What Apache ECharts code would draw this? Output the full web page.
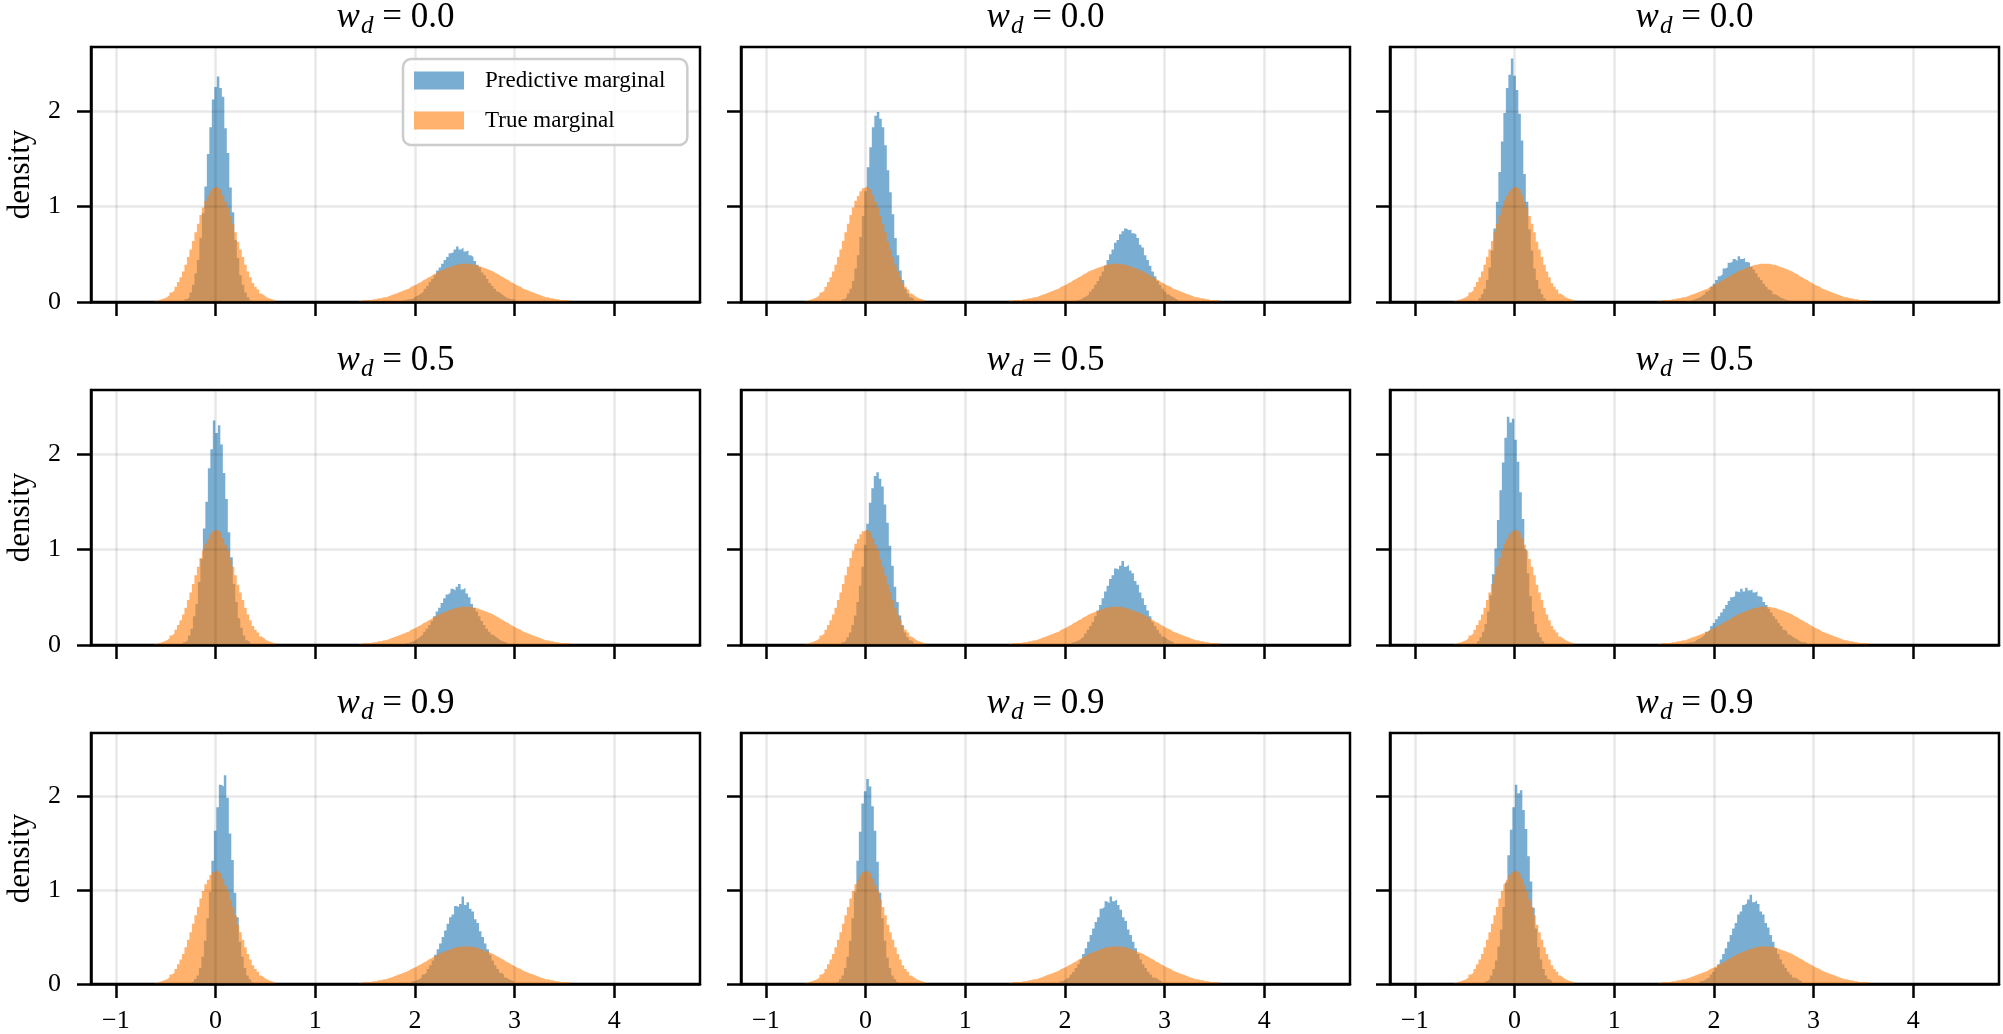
<!DOCTYPE html>
<html>
<head>
<meta charset="utf-8">
<title>Predictive vs true marginal</title>
<script src="https://cdn.jsdelivr.net/npm/echarts@6/dist/echarts.min.js"></script>
<style>
  html, body { margin: 0; padding: 0; background: #fff; }
  #chart { width: 2003px; height: 1034px; }
</style>
</head>
<body>
<div id="chart"></div>
<script>
const binWidth = 0.025
const weightLabels = ['0.0', '0.0', '0.0', '0.5', '0.5', '0.5', '0.9', '0.9', '0.9']
const xTicks = [-1, 0, 1, 2, 3, 4]
const yTicks = [0, 1, 2]

// true marginal, same in every panel (bin centres start at the given value)
const trueLowStart = -0.6
const trueLow = [0.01,0.02,0.03,0.04,0.05,0.07,0.10,0.12,0.16,0.21,0.26,0.32,0.39,0.47,0.55,0.64,0.73,0.82,0.91,0.99,1.06,1.11,1.16,1.19,
  1.21,
  1.19,1.17,1.12,1.05,0.99,0.90,0.82,0.73,0.63,0.55,0.47,0.39,0.32,0.26,0.20,0.16,0.13,0.09,0.07,0.05,0.04,0.03,0.02,0.01]
const trueHighStart = 1.45
const trueHigh = [0.01,0.02,0.02,0.02,0.02,0.03,0.03,0.04,0.04,0.05,0.05,0.06,0.07,0.08,0.09,0.10,0.11,0.12,0.13,0.14,0.16,0.17,0.18,0.20,0.21,0.23,0.24,0.26,0.27,0.29,0.30,0.32,0.33,0.34,0.35,0.36,0.37,0.38,0.39,0.39,0.40,0.40,
  0.40,
  0.40,0.40,0.39,0.39,0.38,0.37,0.36,0.35,0.34,0.33,0.32,0.30,0.29,0.27,0.26,0.24,0.23,0.21,0.20,0.18,0.17,0.16,0.14,0.13,0.12,0.11,0.10,0.09,0.08,0.07,0.06,0.05,0.05,0.04,0.04,0.03,0.03,0.02,0.02,0.02,0.02,0.01]

// predictive marginal, one pair of arrays per panel (row by row)
const predLowStart = [-0.3, -0.225, -0.35, -0.315, -0.23, -0.365, -0.23, -0.28, -0.285]
const predHighStart = [1.9, 2.13, 1.75, 1.92, 2.08, 1.725, 1.98, 1.96, 1.87]

const predLow1 = [0.03,0.05,0.10,0.18,0.30,0.44,0.67,0.93,1.21,1.55,1.83,2.12,2.25,2.36,2.24,2.15,1.82,1.56,1.20,0.94,0.65,0.46,0.28,0.18,0.10,0.05,0.02]
const predHigh1 = [0.02,0.03,0.03,0.04,0.06,0.07,0.09,0.11,0.14,0.17,0.21,0.24,0.28,0.33,0.36,0.40,0.44,0.47,0.51,0.52,0.55,0.58,0.55,0.57,0.53,0.54,0.49,0.47,0.43,0.39,0.36,0.31,0.28,0.24,0.20,0.17,0.14,0.11,0.09,0.07,0.05,0.04,0.03,0.03,0.02]
const predLow2 = [0.03,0.05,0.09,0.14,0.22,0.35,0.49,0.68,0.90,1.16,1.41,1.62,1.83,1.95,1.99,1.92,1.83,1.64,1.38,1.15,0.92,0.67,0.49,0.33,0.23,0.14,0.09,0.05,0.03]
const predHigh2 = [0.02,0.03,0.05,0.06,0.08,0.11,0.14,0.18,0.22,0.27,0.32,0.38,0.44,0.50,0.55,0.62,0.65,0.71,0.74,0.77,0.75,0.76,0.72,0.71,0.67,0.60,0.57,0.49,0.44,0.38,0.32,0.27,0.22,0.18,0.14,0.11,0.08,0.06,0.05,0.03,0.02]
const predLow3 = [0.04,0.08,0.14,0.23,0.36,0.54,0.77,1.05,1.36,1.68,1.98,2.24,2.38,2.55,2.37,2.22,1.97,1.69,1.34,1.05,0.76,0.54,0.35,0.23,0.14,0.08,0.04]
const predHigh3 = [0.01,0.02,0.03,0.04,0.05,0.07,0.08,0.11,0.13,0.16,0.19,0.23,0.27,0.29,0.35,0.36,0.41,0.42,0.45,0.43,0.48,0.45,0.46,0.42,0.41,0.37,0.34,0.30,0.26,0.23,0.19,0.16,0.13,0.11,0.08,0.07,0.05,0.04,0.03,0.02,0.01]

const predLow4 = [0.03,0.05,0.10,0.17,0.30,0.43,0.66,0.90,1.22,1.50,1.85,2.05,2.35,2.22,2.30,2.10,1.80,1.53,1.18,0.92,0.64,0.45,0.28,0.18,0.10,0.05,0.03]
const predHigh4 = [0.02,0.03,0.04,0.05,0.07,0.09,0.11,0.14,0.17,0.21,0.25,0.30,0.35,0.39,0.44,0.49,0.53,0.55,0.59,0.57,0.61,0.64,0.58,0.60,0.54,0.50,0.43,0.39,0.35,0.30,0.25,0.21,0.17,0.14,0.11,0.09,0.07,0.05,0.04,0.03,0.02]
const predLow5 = [0.03,0.05,0.08,0.13,0.21,0.31,0.45,0.62,0.82,1.05,1.27,1.49,1.64,1.77,1.81,1.74,1.66,1.47,1.28,1.04,0.83,0.61,0.45,0.31,0.21,0.13,0.08,0.05,0.03]
const predHigh5 = [0.03,0.04,0.05,0.07,0.09,0.12,0.16,0.20,0.24,0.30,0.36,0.42,0.49,0.56,0.62,0.69,0.73,0.80,0.79,0.83,0.88,0.82,0.84,0.78,0.75,0.67,0.63,0.55,0.49,0.42,0.36,0.30,0.24,0.20,0.16,0.12,0.09,0.07,0.05,0.04,0.03]
const predLow6 = [0.04,0.08,0.14,0.22,0.35,0.52,0.74,1.01,1.31,1.62,1.91,2.17,2.39,2.33,2.37,2.15,1.92,1.60,1.32,1.00,0.75,0.51,0.35,0.22,0.13,0.08,0.04]
const predHigh6 = [0.02,0.03,0.03,0.04,0.06,0.07,0.09,0.11,0.14,0.16,0.20,0.23,0.27,0.30,0.34,0.38,0.42,0.46,0.50,0.51,0.56,0.55,0.59,0.56,0.60,0.57,0.58,0.55,0.56,0.51,0.50,0.45,0.42,0.38,0.34,0.30,0.27,0.23,0.20,0.16,0.14,0.11,0.09,0.07,0.06,0.04,0.03,0.03,0.02]

const predLow7 = [0.02,0.05,0.09,0.17,0.29,0.46,0.70,0.98,1.31,1.63,1.88,2.12,2.10,2.22,1.98,1.60,1.32,0.97,0.71,0.45,0.29,0.17,0.09,0.05,0.02]
const predHigh7 = [0.03,0.04,0.05,0.07,0.10,0.12,0.16,0.20,0.25,0.31,0.37,0.43,0.50,0.57,0.64,0.71,0.74,0.83,0.82,0.85,0.93,0.84,0.87,0.80,0.77,0.69,0.65,0.56,0.50,0.43,0.37,0.31,0.25,0.20,0.16,0.12,0.10,0.07,0.05,0.04,0.03]
const predLow8 = [0.02,0.05,0.09,0.17,0.29,0.46,0.70,0.98,1.31,1.62,1.92,2.05,2.18,2.10,1.89,1.63,1.30,0.97,0.70,0.46,0.28,0.17,0.09,0.05,0.02]
const predHigh8 = [0.03,0.04,0.06,0.07,0.10,0.13,0.17,0.21,0.26,0.32,0.38,0.45,0.52,0.59,0.66,0.71,0.80,0.82,0.88,0.86,0.93,0.88,0.90,0.84,0.79,0.71,0.67,0.58,0.52,0.45,0.38,0.32,0.26,0.21,0.17,0.13,0.10,0.07,0.06,0.04,0.03]
const predLow9 = [0.03,0.05,0.09,0.16,0.25,0.40,0.58,0.82,1.08,1.37,1.64,1.88,2.12,2.03,2.06,1.85,1.65,1.36,1.09,0.81,0.59,0.39,0.26,0.16,0.09,0.05,0.03]
const predHigh9 = [0.03,0.04,0.06,0.07,0.10,0.13,0.17,0.21,0.26,0.32,0.38,0.45,0.52,0.59,0.65,0.74,0.77,0.84,0.86,0.90,0.95,0.87,0.89,0.85,0.77,0.74,0.65,0.60,0.52,0.45,0.38,0.32,0.26,0.21,0.17,0.13,0.10,0.07,0.06,0.04,0.03]

const predLow = [predLow1, predLow2, predLow3, predLow4, predLow5, predLow6, predLow7, predLow8, predLow9]
const predHigh = [predHigh1, predHigh2, predHigh3, predHigh4, predHigh5, predHigh6, predHigh7, predHigh8, predHigh9]

const font = "'Liberation Serif', 'DejaVu Serif', serif"
const colLeft = [91, 741, 1390]
const rowTop = [47, 390, 733]
const panelW = 609
const panelH = 255
const gridColor = 'rgba(0,0,0,0.09)'

// histogram outline: left bin edges, stepped
function histPoints(start, values) {
  const half = binWidth / 2
  const pts = values.map((v, i) => [start + i * binWidth - half, v])
  pts.push([start + values.length * binWidth - half, 0])
  return pts
}

function histSeries(name, idx, pts, rgb) {
  return {
    type: 'line',
    name: name,
    xAxisIndex: idx,
    yAxisIndex: idx,
    data: pts,
    step: 'end',
    showSymbol: false,
    symbol: 'none',
    silent: true,
    z: 1,
    itemStyle: { color: 'rgba(' + rgb + ',0.6)' },
    lineStyle: { width: 0, opacity: 0 },
    areaStyle: { color: 'rgb(' + rgb + ')', opacity: 0.6 }
  }
}

const blue = '31,119,180'
const orange = '255,127,14'

const grids = []
const xAxes = []
const yAxes = []
const series = []
const titles = []

for (let i = 0; i < 9; i++) {
  const r = Math.floor(i / 3)
  const c = i % 3
  grids.push({
    left: colLeft[c], top: rowTop[r], width: panelW, height: panelH,
    show: true, borderColor: '#000', borderWidth: 2.5, backgroundColor: 'transparent'
  })
  xAxes.push({
    gridIndex: i, type: 'value', min: -1.25, max: 4.86, z: 3,
    axisLine: { show: true, onZero: false, lineStyle: { color: '#000', width: 2.5 } },
    axisTick: { show: true, customValues: xTicks, length: 14, lineStyle: { color: '#000', width: 2.5 } },
    axisLabel: {
      show: r === 2, customValues: xTicks, margin: 24,
      fontFamily: font, fontSize: 26, color: '#000',
      formatter: v => (v < 0 ? '\u2212' + Math.abs(v) : String(v))
    },
    splitLine: { show: true, lineStyle: { color: gridColor, width: 2.5 } }
  })
  yAxes.push({
    gridIndex: i, type: 'value', min: 0, max: 2.67, z: 3,
    name: c === 0 ? 'density' : '',
    nameLocation: 'middle', nameRotate: 90, nameGap: 55,
    nameTextStyle: { fontFamily: font, fontSize: 31, color: '#000' },
    axisLine: { show: true, onZero: false, lineStyle: { color: '#000', width: 2.5 } },
    axisTick: { show: true, customValues: yTicks, length: 14, lineStyle: { color: '#000', width: 2.5 } },
    axisLabel: { show: c === 0, customValues: yTicks, margin: 30, fontFamily: font, fontSize: 26, color: '#000' },
    splitLine: { show: true, lineStyle: { color: gridColor, width: 2.5 } }
  })
  series.push(histSeries('Predictive marginal', i, histPoints(predLowStart[i], predLow[i]), blue))
  series.push(histSeries('Predictive marginal', i, histPoints(predHighStart[i], predHigh[i]), blue))
  series.push(histSeries('True marginal', i, histPoints(trueLowStart, trueLow), orange))
  series.push(histSeries('True marginal', i, histPoints(trueHighStart, trueHigh), orange))

  titles.push({
    type: 'text',
    x: colLeft[c] + panelW / 2,
    y: rowTop[r] - 8,
    silent: true,
    style: {
      text: '{w|w}{d|d}{t| = ' + weightLabels[i] + '}',
      align: 'center',
      verticalAlign: 'bottom',
      fill: '#000',
      rich: {
        w: { fontFamily: font, fontStyle: 'italic', fontSize: 35, lineHeight: 42 },
        d: { fontFamily: font, fontStyle: 'italic', fontSize: 25, lineHeight: 26, padding: [16, 0, 0, 1] },
        t: { fontFamily: font, fontSize: 35, lineHeight: 42 }
      }
    }
  })
}

const chart = echarts.init(document.getElementById('chart'))
chart.setOption({
  animation: false,
  textStyle: { fontFamily: font },
  grid: grids,
  xAxis: xAxes,
  yAxis: yAxes,
  series: series,
  graphic: titles,
  legend: {
    left: 403, top: 59,
    orient: 'vertical',
    data: ['Predictive marginal', 'True marginal'],
    icon: 'rect',
    itemWidth: 50, itemHeight: 18, itemGap: 17,
    padding: [10, 22, 13, 11],
    backgroundColor: 'rgba(255,255,255,0.8)',
    borderColor: '#cccccc', borderWidth: 2.5, borderRadius: 8,
    selectedMode: false,
    textStyle: { fontFamily: font, fontSize: 23, color: '#000', padding: [0, 0, 0, 16], lineHeight: 18 }
  }
})
</script>
</body>
</html>
